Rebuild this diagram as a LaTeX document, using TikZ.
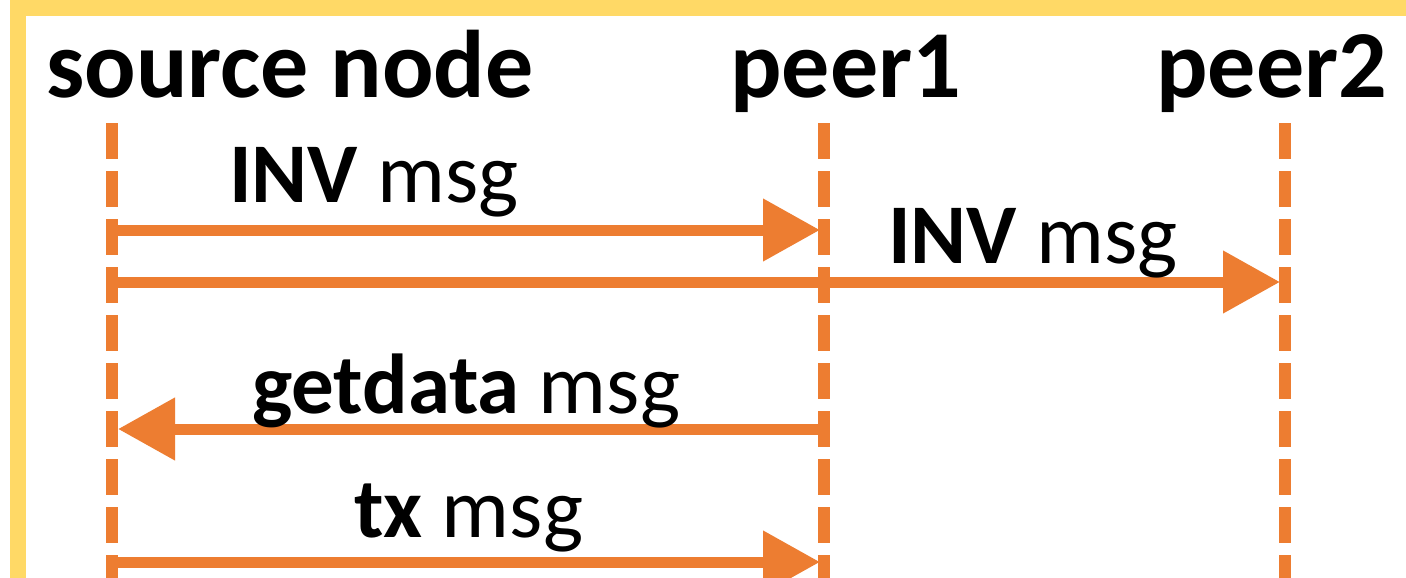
\documentclass[tikz,border=0pt]{standalone}
\usepackage{fontspec}
\setmainfont{Carlito}
\usetikzlibrary{arrows.meta}
\definecolor{frameyellow}{HTML}{FFD966}
\definecolor{msgorange}{HTML}{ED7D31}
\begin{document}
\begin{tikzpicture}[x=1pt,y=-1pt,
  head/.style={anchor=base west, inner sep=0pt, font=\fontsize{96}{100}\selectfont\bfseries},
  lbl/.style={anchor=base west, inner sep=0pt, font=\fontsize{85}{90}\selectfont},
  lifeline/.style={draw=msgorange, line width=12pt, dash pattern=on 36pt off 12pt},
  msgarrow/.style={draw=msgorange, line width=11pt, -{Triangle[length=57pt,width=60pt]}},
  frame/.style={draw=frameyellow, line width=16pt}
]
\useasboundingbox (0,0) rectangle (1406,578);
\clip (0,0) rectangle (1406,578);
\fill[white] (0,0) rectangle (1406,578);
\draw[frame] (18,8) rectangle (1500,700);

% headings
\node[head] (src) at (46,97) {source node};
\node[head] (p1) at (730,97) {peer1};
\node[head] (p2) at (1156,97) {peer2};

% lifeline coordinates
\coordinate (srcTop) at (112,123);
\coordinate (srcBot) at (112,640);
\coordinate (p1Top) at (824,123);
\coordinate (p1Bot) at (824,640);
\coordinate (p2Top) at (1285,123);
\coordinate (p2Bot) at (1285,640);
\draw[lifeline] (srcTop) -- (srcBot);
\draw[lifeline] (p1Top) -- (p1Bot);
\draw[lifeline] (p2Top) -- (p2Bot);

% message end points
\coordinate (a1s) at (112,230);
\coordinate (a1e) at (820,230);
\coordinate (a2s) at (112,282);
\coordinate (a2e) at (1280,282);
\coordinate (a3s) at (824,429);
\coordinate (a3e) at (118,429);
\coordinate (a4s) at (112,562);
\coordinate (a4e) at (820,562);

\draw[msgarrow] (a1s) -- (a1e);
\draw[msgarrow] (a2s) -- (a2e);
\draw[msgarrow] (a3s) -- (a3e);
\draw[msgarrow] (a4s) -- (a4e);

% labels
\node[lbl] (inv1) at (229,202) {\textbf{INV} msg};
\node[lbl] (inv2) at (888,263) {\textbf{INV} msg};
\node[lbl] (getdata) at (252,413) {\textbf{getdata} msg};
\node[lbl] (tx) at (354,537) {\textbf{tx} msg};
\end{tikzpicture}
\end{document}
